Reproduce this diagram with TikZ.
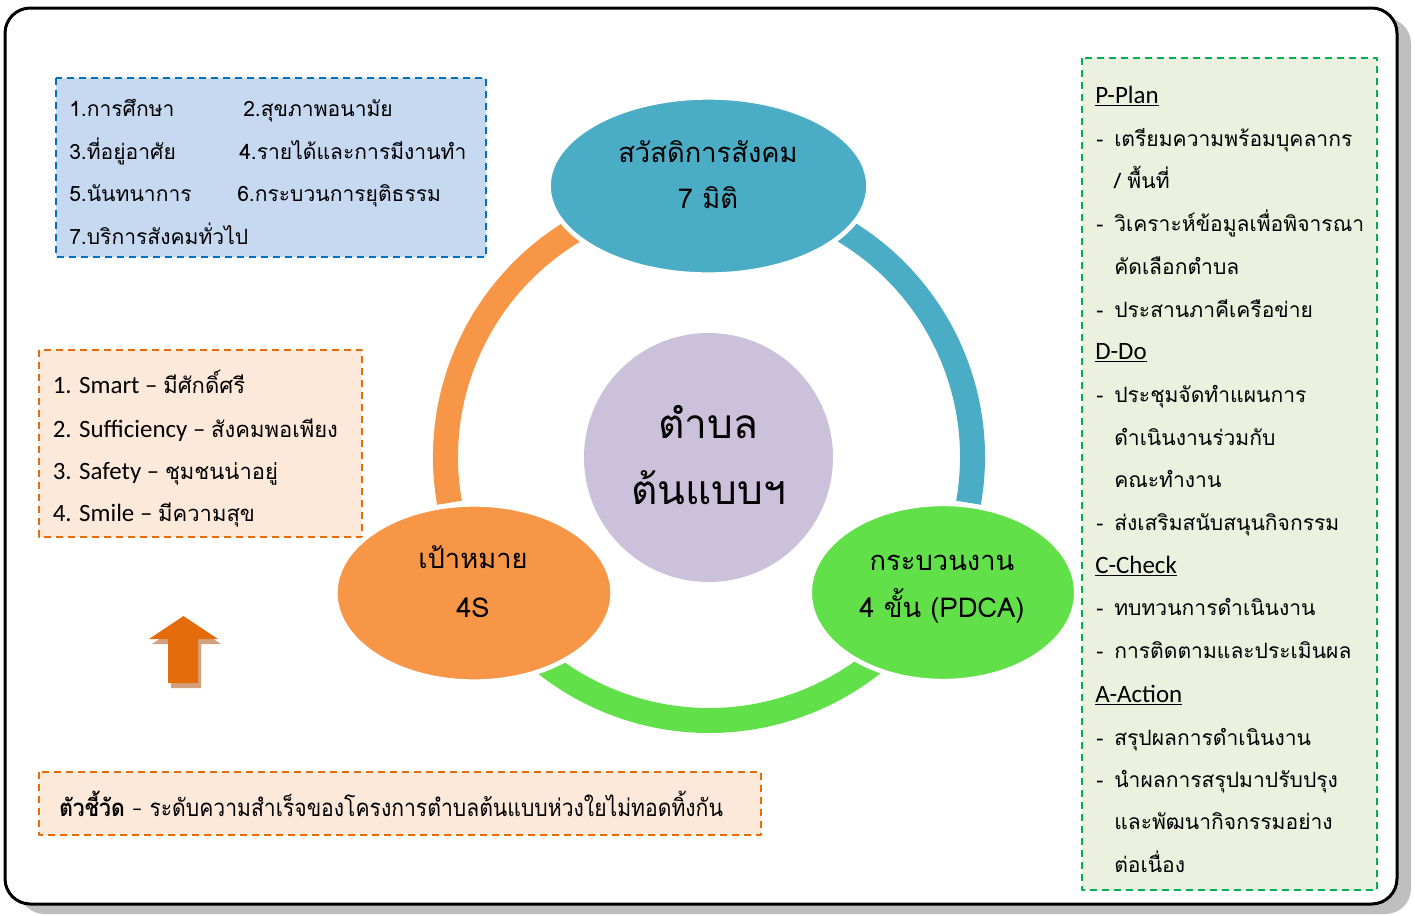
\documentclass[tikz,border=0pt]{standalone}
\usepackage{fontspec}
\setmainfont{Loma}[Script=Thai]
\newfontfamily\latinfont{Carlito}
\usetikzlibrary{calc,shapes.geometric}

\definecolor{welfare}{HTML}{4BACC6}
\definecolor{target}{HTML}{F79646}
\definecolor{process}{HTML}{62E049}
\definecolor{village}{HTML}{CCC1DA}
\definecolor{dimfill}{HTML}{C6D9F1}
\definecolor{dimline}{HTML}{0070C0}
\definecolor{goalfill}{HTML}{FDE9D9}
\definecolor{goalline}{HTML}{E46C0A}
\definecolor{pdcafill}{HTML}{EBF1DE}
\definecolor{pdcaline}{HTML}{00B050}
\definecolor{arrowshade}{HTML}{D2A27E}

\newcommand{\bodyfont}{\fontsize{15.8}{19}\selectfont}
\newcommand{\bubblefont}{\fontsize{20.5}{24}\selectfont}
\newcommand{\corefont}{\fontsize{30.5}{34}\selectfont}

\begin{document}
\begin{tikzpicture}[x=0.75pt,y=-0.75pt,line join=round,
    dashbox/.style={line width=1.5pt,dash pattern=on 5.5pt off 3.5pt},
    bubble/.style={ellipse,draw=white,line width=3.5pt,inner sep=0pt},
    txt/.style={anchor=base west,inner sep=0pt,font=\bodyfont},
    ctxt/.style={anchor=base,inner sep=0pt,font=\bubblefont},
    ring/.style={line width=18.75pt}]

    \useasboundingbox (0,0) rectangle (1415,915);

    %% Frame and its shadow.
    \fill[black!25,rounded corners=19pt] (19,18) rectangle (1411,914);
    \filldraw[fill=white,line width=2.25pt,rounded corners=19pt] (5,8) rectangle (1397,904);

    %% Dashed boxes.
    \filldraw[dashbox,draw=dimline,fill=dimfill]   (56,78)   rectangle (486,257);
    \filldraw[dashbox,draw=goalline,fill=goalfill] (39,350)  rectangle (362,537);
    \filldraw[dashbox,draw=goalline,fill=goalfill] (39,772)  rectangle (761,835);
    \filldraw[dashbox,draw=pdcaline,fill=pdcafill] (1082,58) rectangle (1377,890);

    % Ring pieces, the bubbles cut their ends.
    \coordinate (hub) at (709,457);
    \foreach \from/\to/\col in {170/250/target,290/370/welfare,40/140/process} {
        \draw[ring,\col] (hub) ++(\from:263.5) arc[start angle=\from,end angle=\to,radius=263.5];
    }

    %% Bubbles.
    \node[bubble,fill=welfare,minimum width=240pt,minimum height=133pt] (welfare) at (708.5,186) {};
    \node[bubble,fill=target,minimum width=208pt,minimum height=133pt] (target) at (474,593) {};
    \node[bubble,fill=process,minimum width=200pt,minimum height=133pt] (process) at (943,592.5) {};
    \node[circle,fill=village,minimum size=186.75pt,inner sep=0pt] (core) at (708.5,457.5) {};

    \node[ctxt] (welfareA) at (708,162) {สวัสดิการสังคม};
    \node[ctxt] (welfareB) at (708,208) {7 มิติ};
    \node[ctxt] (targetA)  at (473,568) {เป้าหมาย};
    \node[ctxt] (targetB)  at (473,617) {4S};
    \node[ctxt] (processA) at (942,570) {กระบวนงาน};
    \node[ctxt] (processB) at (942,617) {4 ขั้น (PDCA)};
    \node[ctxt,font=\corefont] (coreA) at (708.5,438) {ตำบล};
    \node[ctxt,font=\corefont] (coreB) at (708.5,504) {ต้นแบบฯ};

    % Seven dimensions.
    \foreach \x/\y/\t [count=\i] in {69/116/1.การศึกษา,243/116/2.สุขภาพอนามัย,
        69/159/3.ที่อยู่อาศัย,239/159/4.รายได้และการมีงานทำ,
        69/201.5/5.นันทนาการ,237/201.5/6.กระบวนการยุติธรรม,
        69/244/7.บริการสังคมทั่วไป} {
        \node[txt] (dim\i) at (\x,\y) {\t};
    }

    % 4S goals.
    \foreach \y/\en/\th [count=\i] in {393/1. Smart/มีศักดิ์ศรี,
        437/2. Sufficiency/สังคมพอเพียง,479/3. Safety/ชุมชนน่าอยู่,
        521.5/4. Smile/มีความสุข} {
        \node[txt,font=\fontsize{16.5}{20}\selectfont] (goal\i) at (52.5,\y)
            {{\latinfont\fontsize{18.7}{22}\selectfont \en\ – }\th};
    }

    % Up arrow with its shade.
    \foreach \dx/\dy/\col in {3/5/arrowshade,0/0/goalline} {
        \fill[\col,shift={(\dx,\dy)}] (183.5,616) -- (218,639) -- (198,639) -- (198,683)
            -- (168,683) -- (168,639) -- (149,639) -- cycle;
    }

    % Indicator.
    \node[txt,font=\fontsize{18}{22}\selectfont] (kpi) at (59,816) {\scalebox{0.88}[1]{\textbf{ตัวชี้วัด}
        {\latinfont –} ระดับความสำเร็จของโครงการตำบลต้นแบบห่วงใยไม่ทอดทิ้งกัน}};

    %% PDCA steps.
    \foreach \y/\t [count=\i] in {103/P-Plan,359/D-Do,573/C-Check,702/A-Action} {
        \node[txt,font=\latinfont\fontsize{18.7}{22}\selectfont] (head\i) at (1095,\y) {\underline{\t}};
    }
    \foreach \y/\t [count=\i] in {146/เตรียมความพร้อมบุคลากร,188.5/{/ พื้นที่},
        231/วิเคราะห์ข้อมูลเพื่อพิจารณา,274/คัดเลือกตำบล,317/ประสานภาคีเครือข่าย,
        402/ประชุมจัดทำแผนการ,445/ดำเนินงานร่วมกับ,487/คณะทำงาน,
        530/ส่งเสริมสนับสนุนกิจกรรม,615/ทบทวนการดำเนินงาน,658/การติดตามและประเมินผล,
        745/สรุปผลการดำเนินงาน,787/นำผลการสรุปมาปรับปรุง,
        829/และพัฒนากิจกรรมอย่าง,872/ต่อเนื่อง} {
        \node[txt] (step\i) at (1114,\y) {\t};
    }
    \foreach \y [count=\i] in {146,231,317,402,530,615,658,745,787} {
        \node[txt] (dash\i) at (1096,\y) {-};
    }
\end{tikzpicture}
\end{document}
